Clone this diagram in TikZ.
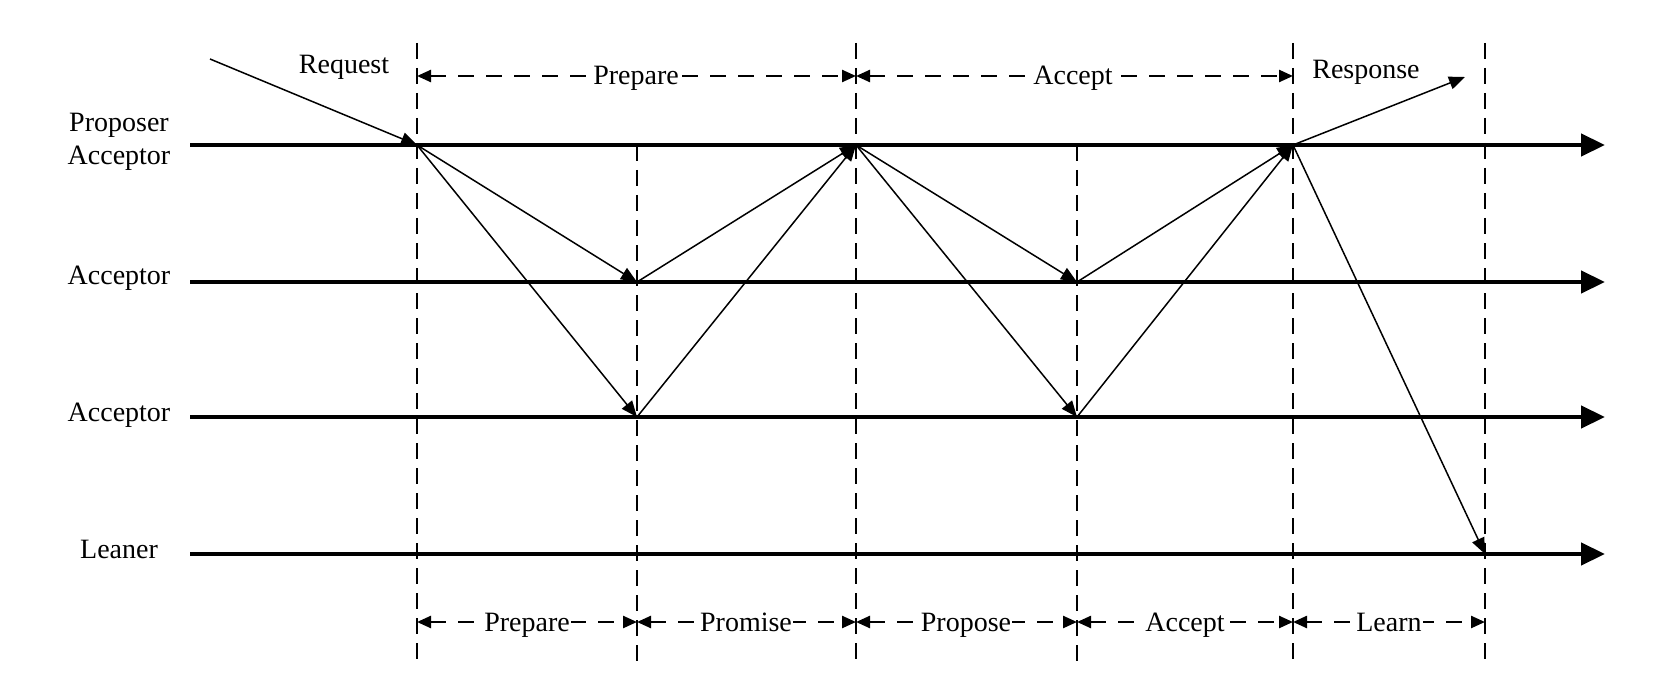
\documentclass[tikz,border=0pt]{standalone}
\usepackage{fontspec}
\setmainfont{Liberation Serif}
\usetikzlibrary{arrows.meta}
\begin{document}
\begin{tikzpicture}[x=0.5pt,y=-0.5pt,
  timeline/.style={line width=2.2pt,-{Triangle[length=12pt,width=11pt]}},
  msg/.style={line width=0.75pt,-{Triangle[length=8pt,width=6.5pt]}},
  vdash/.style={line width=1.1pt,dash pattern=on 8pt off 4.5pt},
  dimline/.style={line width=1.2pt,dash pattern=on 8pt off 6pt,{Triangle[length=7pt,width=6pt]}-{Triangle[length=7pt,width=6pt]}},
  lbl/.style={font=\fontsize{14}{16}\selectfont,inner sep=0pt,anchor=base},
  dimlbl/.style={lbl,fill=white,inner xsep=0.6pt}]
\useasboundingbox (0,0) rectangle (1672,690);
% vertical guide lines
\coordinate (va1) at (417,43);  \coordinate (va2) at (417,662);
\coordinate (vb1) at (637,145); \coordinate (vb2) at (637,662);
\coordinate (vc1) at (856,43);  \coordinate (vc2) at (856,662);
\coordinate (vd1) at (1077,145);\coordinate (vd2) at (1077,662);
\coordinate (ve1) at (1293,43); \coordinate (ve2) at (1293,662);
\coordinate (vf1) at (1485,43); \coordinate (vf2) at (1485,662);
\draw[vdash] (va1) -- (va2);
\draw[vdash] (vb1) -- (vb2);
\draw[vdash] (vc1) -- (vc2);
\draw[vdash] (vd1) -- (vd2);
\draw[vdash] (ve1) -- (ve2);
\draw[vdash] (vf1) -- (vf2);
% timelines
\coordinate (l1s) at (190,145); \coordinate (l1e) at (1605,145);
\coordinate (l2s) at (190,282); \coordinate (l2e) at (1605,282);
\coordinate (l3s) at (190,417); \coordinate (l3e) at (1605,417);
\coordinate (l4s) at (190,554); \coordinate (l4e) at (1605,554);
\draw[timeline] (l1s) -- (l1e);
\draw[timeline] (l2s) -- (l2e);
\draw[timeline] (l3s) -- (l3e);
\draw[timeline] (l4s) -- (l4e);
% role labels
\node[lbl] (proposer) at (119,132) {Proposer};
\node[lbl] (acc1) at (119,165) {Acceptor};
\node[lbl] (acc2) at (119,285) {Acceptor};
\node[lbl] (acc3) at (119,421) {Acceptor};
\node[lbl] (leaner) at (119,558) {Leaner};
% event points
\coordinate (p0) at (417,145);
\coordinate (p2) at (856,145);
\coordinate (p4) at (1293,145);
\coordinate (a2) at (637,282);
\coordinate (a4) at (1077,282);
\coordinate (b2) at (637,417);
\coordinate (b4) at (1077,417);
\coordinate (ln) at (1485,554);
\coordinate (reqs) at (210,59);
\coordinate (rese) at (1465,77);
% messages
\draw[msg] (reqs) -- (p0);
\draw[msg] (p0) -- (a2);
\draw[msg] (p0) -- (b2);
\draw[msg] (a2) -- (p2);
\draw[msg] (b2) -- (p2);
\draw[msg] (p2) -- (a4);
\draw[msg] (p2) -- (b4);
\draw[msg] (a4) -- (p4);
\draw[msg] (b4) -- (p4);
\draw[msg] (p4) -- (rese);
\draw[msg] (p4) -- (ln);
\node[lbl] (request) at (344,74) {Request};
\node[lbl] (response) at (1366,79) {Response};
% top dimension lines
\coordinate (ta) at (417,76); \coordinate (tc) at (856,76); \coordinate (te) at (1293,76);
\draw[dimline] (ta) -- (tc);
\draw[dimline] (tc) -- (te);
\node[dimlbl] (tprep) at (636,85) {Prepare};
\node[dimlbl] (tacc) at (1073,85) {Accept};
% bottom dimension lines
\coordinate (ba) at (417,622); \coordinate (bb) at (637,622); \coordinate (bc) at (856,622);
\coordinate (bd) at (1077,622); \coordinate (be) at (1293,622); \coordinate (bf) at (1485,622);
\draw[dimline] (ba) -- (bb);
\draw[dimline] (bb) -- (bc);
\draw[dimline] (bc) -- (bd);
\draw[dimline] (bd) -- (be);
\draw[dimline] (be) -- (bf);
\node[dimlbl] (bprep) at (527,631) {Prepare};
\node[dimlbl] (bprom) at (746,631) {Promise};
\node[dimlbl] (bprop) at (966,631) {Propose};
\node[dimlbl] (bacc) at (1185,631) {Accept};
\node[dimlbl] (blearn) at (1389,631) {Learn};
\end{tikzpicture}
\end{document}
